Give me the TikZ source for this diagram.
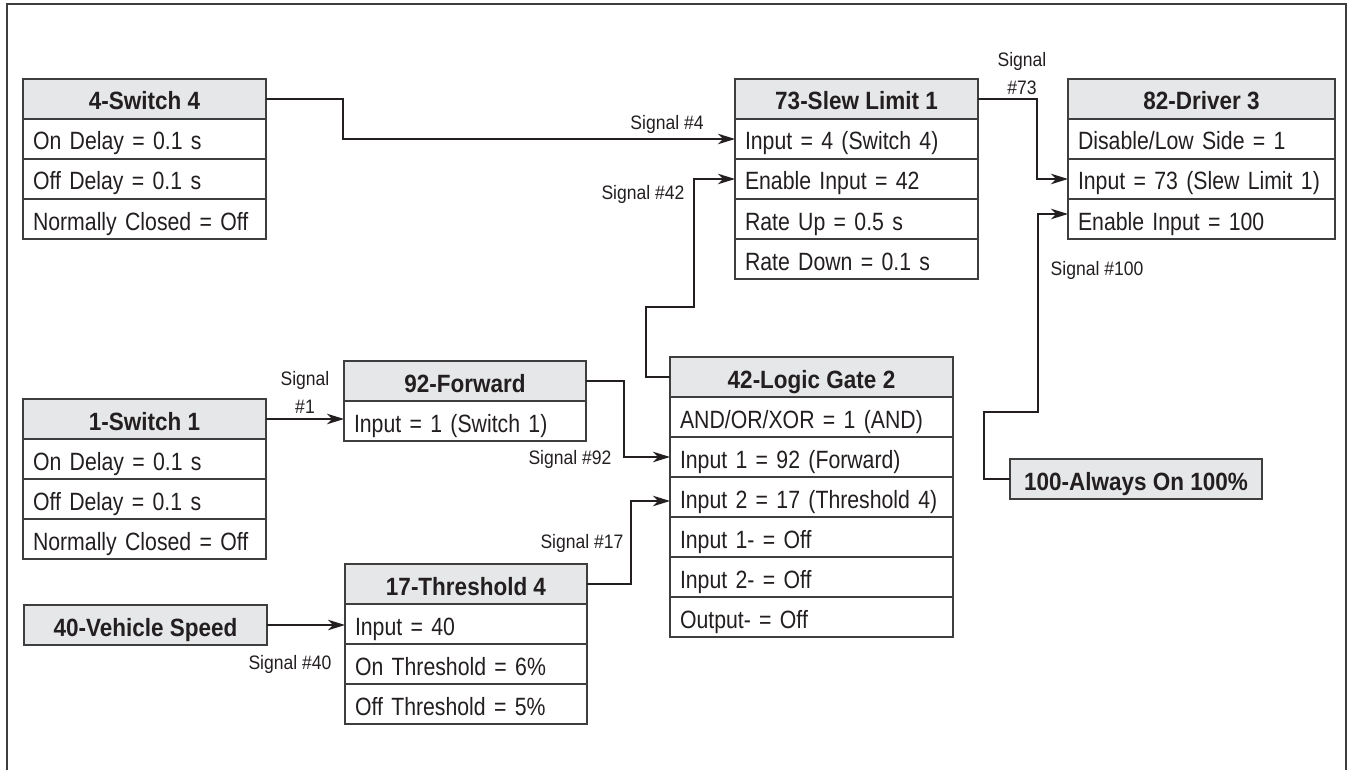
\documentclass[tikz,border=0pt]{standalone}
\usepackage{fontspec}
\setmainfont{Liberation Sans}[FakeStretch=0.85]
\newfontfamily\sigfont{Liberation Sans}[FakeStretch=0.9]
\usetikzlibrary{arrows.meta}
\definecolor{hdrc}{RGB}{230,231,232}
\definecolor{bordc}{RGB}{62,62,62}
\definecolor{txtc}{RGB}{35,31,32}
\begin{document}
\begin{tikzpicture}[x=1pt,y=-1pt,
 hdr/.style={draw=bordc, fill=hdrc, line width=1.4pt, outer sep=0pt, inner sep=0pt, anchor=north west,
   minimum height=40pt, text height=23pt, text depth=1pt, font=\sigfont\fontsize{25}{25}\selectfont\bfseries, text=txtc},
 row/.style={draw=bordc, fill=white, line width=1.4pt, outer sep=0pt, inner xsep=10pt, inner ysep=0pt, anchor=north west,
   minimum height=40pt, text height=23pt, text depth=1pt, text width=#1, align=left, font=\fontsize{25}{25}\selectfont, text=txtc},
 sig/.style={font=\sigfont\fontsize{19.5}{28}\selectfont, text=txtc, align=center, inner sep=0pt},
 conn/.style={draw=txtc, line width=1.2pt, -{Stealth[length=17pt,width=10.5pt,inset=5pt]}}
]
\useasboundingbox (0,0) rectangle (1352,770);
\draw[bordc, line width=1.4pt] (7,770) -- (7,4) -- (1346,4) -- (1346,770);

% 4-Switch 4
\node[hdr, minimum width=243pt] (s4) at (23,79) {4-Switch 4};
\node[row=223pt] (s4a) at (s4.south west) {On Delay = 0.1 s};
\node[row=223pt] (s4b) at (s4a.south west) {Off Delay = 0.1 s};
\node[row=223pt] (s4c) at (s4b.south west) {Normally Closed = Off};

% 73-Slew Limit 1
\node[hdr, minimum width=243pt] (sl) at (735,79) {73-Slew Limit 1};
\node[row=223pt] (sla) at (sl.south west) {Input = 4 (Switch 4)};
\node[row=223pt] (slb) at (sla.south west) {Enable Input = 42};
\node[row=223pt] (slc) at (slb.south west) {Rate Up = 0.5 s};
\node[row=223pt] (sld) at (slc.south west) {Rate Down = 0.1 s};

% 82-Driver 3
\node[hdr, minimum width=267pt] (d3) at (1068,79) {82-Driver 3};
\node[row=247pt] (d3a) at (d3.south west) {Disable/Low Side = 1};
\node[row=247pt] (d3b) at (d3a.south west) {Input = 73 (Slew Limit 1)};
\node[row=247pt] (d3c) at (d3b.south west) {Enable Input = 100};

% 1-Switch 1
\node[hdr, minimum width=243pt] (sw1) at (23,399) {1-Switch 1};
\node[row=223pt] (sw1a) at (sw1.south west) {On Delay = 0.1 s};
\node[row=223pt] (sw1b) at (sw1a.south west) {Off Delay = 0.1 s};
\node[row=223pt] (sw1c) at (sw1b.south west) {Normally Closed = Off};

% 92-Forward
\node[hdr, minimum width=242pt] (fw) at (344,361) {92-Forward};
\node[row=222pt] (fwa) at (fw.south west) {Input = 1 (Switch 1)};

% 42-Logic Gate 2
\node[hdr, minimum width=283pt] (lg) at (670,357) {42-Logic Gate 2};
\node[row=263pt] (lga) at (lg.south west) {AND/OR/XOR = 1 (AND)};
\node[row=263pt] (lgb) at (lga.south west) {Input 1 = 92 (Forward)};
\node[row=263pt] (lgc) at (lgb.south west) {Input 2 = 17 (Threshold 4)};
\node[row=263pt] (lgd) at (lgc.south west) {Input 1- = Off};
\node[row=263pt] (lge) at (lgd.south west) {Input 2- = Off};
\node[row=263pt] (lgf) at (lge.south west) {Output- = Off};

% 17-Threshold 4
\node[hdr, minimum width=242pt] (th) at (345,564) {17-Threshold 4};
\node[row=222pt] (tha) at (th.south west) {Input = 40};
\node[row=222pt] (thb) at (tha.south west) {On Threshold = 6\%};
\node[row=222pt] (thc) at (thb.south west) {Off Threshold = 5\%};

% 40-Vehicle Speed
\node[hdr, minimum width=243pt] (vs) at (24,605) {40-Vehicle Speed};

% 100-Always On 100%
\node[hdr, minimum width=252pt] (ao) at (1010,459) {100-Always On 100\%};

% bend points
\coordinate (j42a) at (646,307);
\coordinate (j42b) at (694,307);
\coordinate (j100a) at (984,412);
\coordinate (j100b) at (1038,412);

% connectors
\draw[conn] (s4.east) -- ++(77,0) |- (sla.west);
\draw[conn] (lg.west) -| (j42a) -- (j42b) |- (slb.west);
\draw[conn] (sl.east) -- ++(59,0) |- (d3b.west);
\draw[conn] (ao.west) -| (j100a) -- (j100b) |- ([yshift=5pt]d3c.west);
\draw[conn] (sw1.east) -- (sw1.east -| fwa.west);
\draw[conn] (fw.east) -- ++(38,0) |- (lgb.west);
\draw[conn] (th.east) -- ++(44,0) |- ([yshift=-4pt]lgc.west);
\draw[conn] (vs.east) -- (vs.east -| tha.west);

% labels
\node[sig] (l4) at (667,124) {Signal \#4};
\node[sig] (l42) at (643,194) {Signal \#42};
\node[sig] (l73) at (1022,74) {Signal\\\#73};
\node[sig] (l100) at (1097,270) {Signal \#100};
\node[sig] (l1) at (305,392) {Signal\\\#1};
\node[sig] (l92) at (570,459) {Signal \#92};
\node[sig] (l17) at (582,543) {Signal \#17};
\node[sig] (l40) at (290,664) {Signal \#40};
\end{tikzpicture}
\end{document}
